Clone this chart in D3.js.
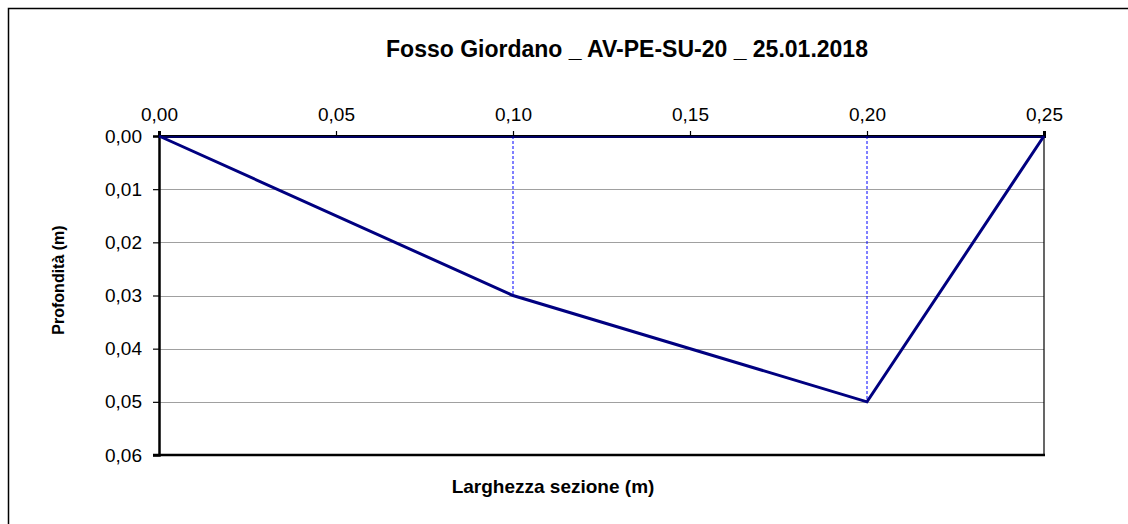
<!DOCTYPE html>
<html>
<head>
<meta charset="utf-8">
<script src="https://cdn.jsdelivr.net/npm/d3@7"></script>
<style>
  body { margin: 0; background: #fff; }
  text { font-family: "Liberation Sans", Arial, sans-serif; fill: #000; }
</style>
</head>
<body>
<div id="chart"></div>
<script>
// section survey data
var larghezza = [0, 0.10, 0.20, 0.25];   // m
var profondita = [0, 0.03, 0.05, 0];      // m
var surfaceX = [0, 0.25];
var xTicks = [0, 0.05, 0.10, 0.15, 0.20, 0.25];
var yTicks = [0, 0.01, 0.02, 0.03, 0.04, 0.05, 0.06];

var width = 1128,
    height = 524;

var margin = {top: 136, right: 84, bottom: 69, left: 159};

var svg = d3.select("#chart").append("svg")
    .attr("width", width)
    .attr("height", height);

var it = d3.formatLocale({decimal: ",", thousands: ".", grouping: [3], currency: ["", "€"]});
var fmt = it.format(".2f");

var x = d3.scaleLinear()
    .domain([0, 0.25])
    .range([margin.left, width - margin.right]);

var y = d3.scaleLinear()
    .domain([0, 0.06])
    .range([margin.top, height - margin.bottom]);

// outer chart frame
svg.append("rect")
    .attr("x", 8.5).attr("y", 8.5)
    .attr("width", 1140).attr("height", 540)
    .attr("fill", "none")
    .attr("stroke", "#000")
    .attr("stroke-width", 1.5);

svg.append("text")
    .attr("x", 627).attr("y", 57)
    .attr("text-anchor", "middle")
    .attr("font-size", 23)
    .attr("font-weight", "bold")
    .text("Fosso Giordano _ AV-PE-SU-20 _ 25.01.2018");

// gridlines
svg.append("g")
    .selectAll("line")
    .data(yTicks.slice(1, -1))
    .enter().append("line")
    .attr("x1", x(0)).attr("x2", x(0.25))
    .attr("y1", function(d) { return Math.round(y(d)) + 0.5; })
    .attr("y2", function(d) { return Math.round(y(d)) + 0.5; })
    .attr("stroke", "#a0a0a0")
    .attr("stroke-width", 1.2);

// plot border right side (thin)
svg.append("line")
    .attr("x1", x(0.25)).attr("x2", x(0.25))
    .attr("y1", y(0)).attr("y2", y(0.06))
    .attr("stroke", "#000").attr("stroke-width", 1.2);

// axes
var xAxis = svg.append("g")
    .attr("transform", "translate(0," + y(0) + ")")
    .call(d3.axisTop(x).tickValues(xTicks).tickFormat(fmt).tickSize(5).tickPadding(10));

var yAxis = svg.append("g")
    .attr("transform", "translate(" + x(0) + ",0)")
    .call(d3.axisLeft(y).tickValues(yTicks).tickFormat(fmt).tickSize(6).tickPadding(11));

[xAxis, yAxis].forEach(function(a) {
    a.selectAll("text").attr("font-size", 19).attr("font-family", "Liberation Sans, Arial, sans-serif").attr("fill", "#000");
    a.selectAll(".tick line").attr("stroke", "#000").attr("stroke-width", 1.2);
});
xAxis.select(".domain").attr("stroke", "#000").attr("stroke-width", 3);
yAxis.select(".domain").attr("stroke", "#000").attr("stroke-width", 2.5);

// bottom axis line
svg.append("line")
    .attr("x1", x(0) - 6).attr("x2", x(0.25) + 1)
    .attr("y1", y(0.06)).attr("y2", y(0.06))
    .attr("stroke", "#000").attr("stroke-width", 2.5);

// dashed verticals at the survey points
svg.append("g")
    .selectAll("line")
    .data(larghezza.filter(function(d, i) { return profondita[i] > 0; }))
    .enter().append("line")
    .attr("x1", function(d) { return x(d); })
    .attr("x2", function(d) { return x(d); })
    .attr("y1", y(0))
    .attr("y2", function(d) { return y(profondita[larghezza.indexOf(d)]); })
    .attr("stroke", "#0000ff")
    .attr("stroke-width", 1)
    .attr("stroke-dasharray", "3,2");

// water surface
svg.append("line")
    .attr("x1", x(surfaceX[0])).attr("x2", x(surfaceX[1]))
    .attr("y1", y(0) + 1).attr("y2", y(0) + 1)
    .attr("stroke", "#000080").attr("stroke-width", 1.5);

// section profile
var line = d3.line()
    .x(function(d, i) { return x(d); })
    .y(function(d, i) { return y(profondita[i]); });

svg.append("path")
    .datum(larghezza)
    .attr("d", line)
    .attr("fill", "none")
    .attr("stroke", "#000080")
    .attr("stroke-width", 3)
    .attr("stroke-linejoin", "miter");

// axis titles
svg.append("text")
    .attr("x", 553).attr("y", 493)
    .attr("text-anchor", "middle")
    .attr("font-size", 19)
    .attr("font-weight", "bold")
    .text("Larghezza sezione (m)");

svg.append("text")
    .attr("transform", "translate(64,280) rotate(-90)")
    .attr("text-anchor", "middle")
    .attr("font-size", 16)
    .attr("font-weight", "bold")
    .text("Profondità (m)");
</script>
</body>
</html>
